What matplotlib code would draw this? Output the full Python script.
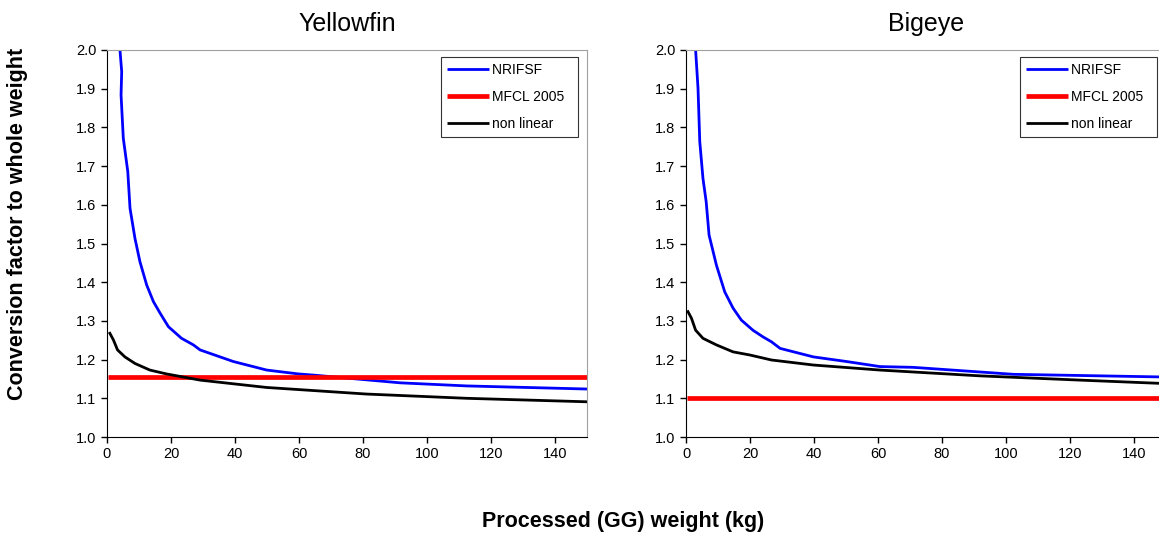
import numpy as np
import matplotlib.pyplot as plt

# Yellowfin values
yft_nrifsf_x = [4.06, 4.6, 4.4, 5.1, 6.5, 7.2, 8.75, 10.3, 12.4, 14.5, 16.6, 19.2, 23.3, 27.0, 29.1,
                39.5, 49.9, 59.8, 64.5, 91.6, 112.4, 150]
yft_nrifsf_y = [2.0, 1.944, 1.884, 1.772, 1.686, 1.591, 1.513, 1.453, 1.393, 1.350, 1.320, 1.285, 1.255,
                1.238, 1.225, 1.195, 1.173, 1.163, 1.160, 1.140, 1.132, 1.124]
yft_nonlin_x = [0.9, 2.0, 3.3, 5.6, 8.75, 13.4, 18.6, 29.1, 49.9, 81.1, 112.4, 150]
yft_nonlin_y = [1.268, 1.251, 1.225, 1.207, 1.190, 1.173, 1.163, 1.147, 1.128, 1.111, 1.100, 1.091]
yft_mfcl = 1.155

# Bigeye values
bet_nrifsf_x = [3.0, 3.75, 4.3, 5.3, 6.3, 7.2, 9.5, 12.1, 14.7, 17.3, 20.9, 24.0, 26.7, 29.4,
                39.8, 50.2, 60.6, 71.0, 102.3, 150]
bet_nrifsf_y = [2.0, 1.901, 1.763, 1.668, 1.608, 1.522, 1.444, 1.375, 1.333, 1.302, 1.276, 1.259,
                1.246, 1.229, 1.207, 1.195, 1.182, 1.180, 1.162, 1.155]
bet_nonlin_x = [0.6, 1.7, 3.0, 5.3, 9.5, 14.7, 19.9, 26.7, 39.8, 60.6, 91.9, 123.1, 150]
bet_nonlin_y = [1.324, 1.307, 1.276, 1.255, 1.238, 1.220, 1.212, 1.199, 1.186, 1.173, 1.158, 1.147, 1.138]
bet_mfcl = 1.10

series_names = ['NRIFSF', 'MFCL 2005', 'non linear']
x_ticks = [0, 20, 40, 60, 80, 100, 120, 140]
y_ticks = [1.0, 1.1, 1.2, 1.3, 1.4, 1.5, 1.6, 1.7, 1.8, 1.9, 2.0]

plt.rcParams['font.family'] = ['Liberation Sans', 'DejaVu Sans']

fig = plt.figure(figsize=(11.59, 5.37), dpi=100)
# right panel runs slightly past the figure edge, as in the original
ax1 = fig.add_axes([0.0923, 0.1862, 0.4142, 0.7207])
ax2 = fig.add_axes([0.5919, 0.1862, 0.4142, 0.7207])

panels = [
    (ax1, 'Yellowfin', yft_nrifsf_x, yft_nrifsf_y, yft_nonlin_x, yft_nonlin_y, yft_mfcl),
    (ax2, 'Bigeye', bet_nrifsf_x, bet_nrifsf_y, bet_nonlin_x, bet_nonlin_y, bet_mfcl),
]

for ax, title, nx, ny, lx, ly, mfcl in panels:
    l1, = ax.plot(nx, ny, color='#0000ff', lw=2)
    l2, = ax.plot([0.4, 150], [mfcl, mfcl], color='#ff0000', lw=3.4, solid_capstyle='butt')
    l3, = ax.plot(lx, ly, color='black', lw=2)
    ax.set_xlim(0, 150)
    ax.set_ylim(1.0, 2.0)
    ax.set_xticks(x_ticks)
    ax.set_yticks(y_ticks)
    ax.set_yticklabels(['%.1f' % v for v in y_ticks])
    ax.tick_params(direction='out', length=4, labelsize=10.5, width=1)
    ax.set_title(title, fontsize=18, pad=14)
    for s in ['top', 'right']:
        ax.spines[s].set_color('#a0a0a0')
    for s in ['left', 'bottom']:
        ax.spines[s].set_color('black')
    # trailing spaces give the wide right margin of the original legend box
    leg = ax.legend([l1, l2, l3], [n + '  ' for n in series_names],
                    loc='upper right', bbox_to_anchor=(0.982, 0.983), fontsize=10,
                    frameon=True, fancybox=False, handlelength=3.0, handletextpad=0.25,
                    borderpad=0.45, labelspacing=0.95, borderaxespad=0.0)
    leg.get_frame().set_edgecolor('black')
    leg.get_frame().set_linewidth(0.8)
    for h in leg.get_lines():
        h.set_solid_capstyle('butt')

fig.text(0.0155, 0.583, 'Conversion factor to whole weight', rotation=90, fontsize=15.5,
         fontweight='bold', ha='center', va='center')
fig.text(0.538, 0.0285, 'Processed (GG) weight (kg)', fontsize=15.5, fontweight='bold',
         ha='center', va='center')

fig.savefig('out.png', dpi=100)
